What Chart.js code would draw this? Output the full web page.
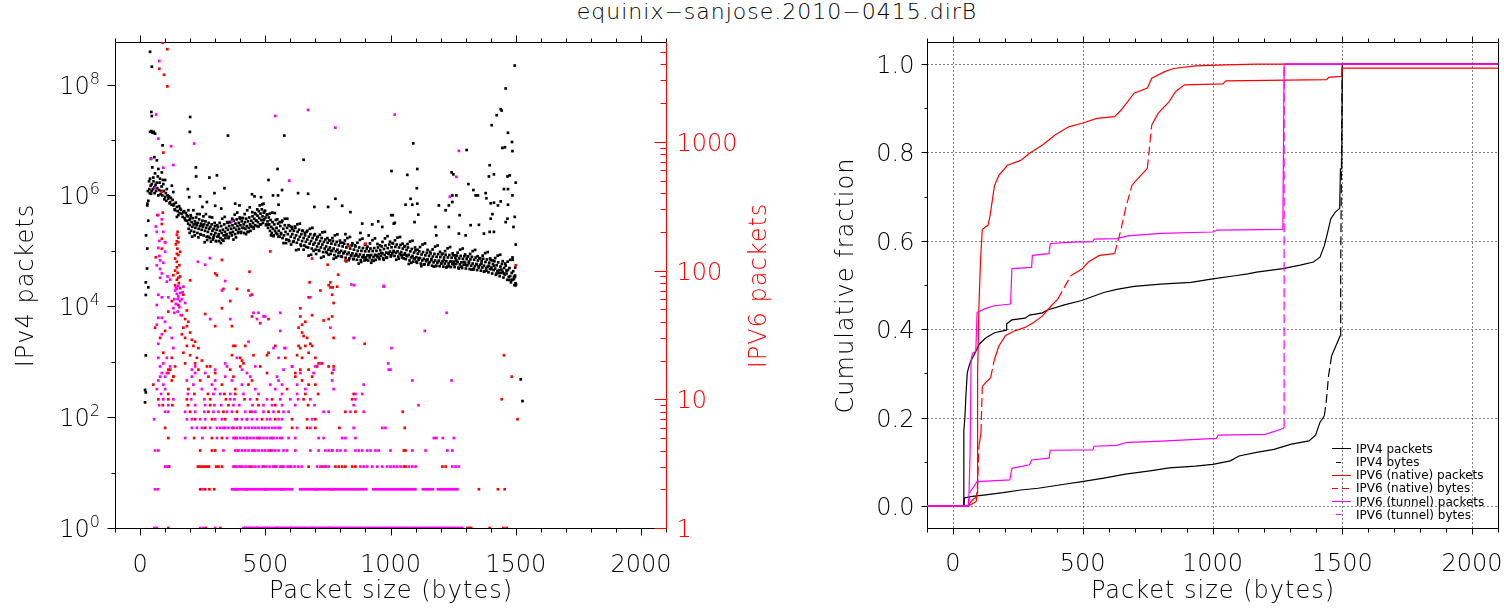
<!DOCTYPE html>
<html><head><meta charset="utf-8">
<script src="https://cdn.jsdelivr.net/npm/chart.js@4.4.1/dist/chart.umd.min.js"></script>
<style>
html,body{margin:0;padding:0;background:#fff;width:1504px;height:610px;overflow:hidden;}
#title{position:absolute;left:777px;top:0;transform:translateX(-50%);white-space:nowrap;font:200 22px 'DejaVu Sans';letter-spacing:1px;line-height:24px;color:#000;}
#c1{position:absolute;left:0;top:0;}
#c2{position:absolute;left:790px;top:0;}
</style></head><body>
<div id="title">equinix−sanjose.2010−0415.dirB</div>
<canvas id="c1" width="790" height="610"></canvas>
<canvas id="c2" width="714" height="610"></canvas>
<script>
// ---------------- tick labels ----------------
const sizeTicks = [0, 500, 1000, 1500, 2000];
const ipv4TickExp = [0, 2, 4, 6, 8];
const ipv6Ticks = [1, 10, 100, 1000];
const fracTicks = [0, 0.2, 0.4, 0.6, 0.8, 1.0];
const fracLabels = ['0.0', '0.2', '0.4', '0.6', '0.8', '1.0'];

// ---------------- left panel: IPv4 packets per size [size, packets] ----------------
const ipv4Points = [
[20,1.85e2],[20,3.1e2],[23,2.8e2],[23,1.3e3],[23,1.6e4],[33,2.2e4],[23,2.7e4],[28,4.8e4],[29,1.1e5],[24,1.9e5],[33,3.5e5],[29,6.6e5],[29,7.1e5],[31,1.2e6],[33,8.0e5],
[40,3.9e8],[47,2.1e8],[45,3.2e7],[47,2.7e7],[40,1.4e7],[45,1.45e7],[50,1.35e7],[55,1.4e7],[60,1.3e7],[90,8.0e6],
[44,4.6e6],[57,4.9e6],[67,4.3e6],[49,3.2e6],[73,3.0e6],[60,2.5e6],[87,2.6e6],[40,2.0e6],[53,2.1e6],[80,2.0e6],[100,1.9e6],[47,1.6e6],[67,1.7e6],[93,1.6e6],[37,1.3e6],[57,1.4e6],[84,1.2e6],[107,1.3e6],[127,1.5e6],[133,1.15e6],[44,1.07e6],[73,1.0e6],[100,9.4e5],[113,8.8e5],[120,7.6e5],[133,6.6e5],[147,6.2e5],[140,5.4e5],[160,5.8e5],[167,4.7e5],[173,5.0e5],[153,4.4e5],[187,4.4e5],[180,3.6e5],[200,3.8e5],[147,4.1e5],
[36,1.8e6],[39,1.1e6],[42,1.5e6],[46,1.2e6],[51,1.3e6],[54,1.8e6],[58,1.1e6],[62,1.55e6],[64,1.2e6],[69,1.35e6],[71,2.2e6],[76,1.25e6],[78,1.7e6],[82,1.05e6],[86,1.45e6],[89,1.0e6],[91,1.9e6],[95,1.2e6],[97,8.5e5],[103,1.1e6],[105,8.0e5],[110,1.0e6],[116,9.6e5],[118,7.2e5],[123,9.0e5],[126,6.8e5],[130,8.3e5],[136,7.0e5],[138,5.6e5],[143,7.4e5],[150,5.2e5],[156,6.4e5],[158,4.8e5],[163,5.5e5],[170,4.1e5],[176,5.2e5],[178,3.9e5],[183,4.8e5],[186,3.5e5],
[190,4.2e5],[192,3.1e5],[194,2.5e5],[197,3.6e5],[199,2.9e5],[202,4.4e5],[204,2.3e5],[206,3.3e5],[209,2.7e5],[211,3.9e5],[214,3.0e5],[216,2.2e5],[219,3.4e5],[221,2.6e5],[224,4.0e5],[226,2.9e5],[229,2.1e5],[231,3.2e5],[234,2.5e5],[236,3.7e5],[239,2.8e5],[241,2.0e5],[244,3.1e5],[246,2.4e5],[249,3.5e5],[251,2.7e5],[254,1.9e5],[256,3.0e5],[259,2.3e5],[261,3.4e5],[264,2.6e5],[266,1.8e5],[269,2.9e5],[271,2.2e5],[274,3.2e5],[276,2.5e5],[279,1.7e5],[281,2.7e5],[284,2.0e5],[286,3.0e5],[289,2.3e5],[291,1.6e5],[294,2.5e5],[296,1.9e5],[299,2.8e5],
[301,2.1e5],[304,1.5e5],[306,2.4e5],[309,1.8e5],[311,2.7e5],[314,2.0e5],[316,1.5e5],[319,2.3e5],[321,1.7e5],[324,2.8e5],[326,2.1e5],[329,1.6e5],[331,2.4e5],[334,1.9e5],[336,3.0e5],[339,2.2e5],[341,1.7e5],[344,2.6e5],[346,2.0e5],[349,3.2e5],[351,2.4e5],[354,1.8e5],[356,2.8e5],[359,2.1e5],[361,3.3e5],[364,2.5e5],[366,1.9e5],[369,2.9e5],[371,2.2e5],[374,3.5e5],[376,2.6e5],[379,2.0e5],[381,3.1e5],[384,2.4e5],[386,3.7e5],[389,2.8e5],[391,2.1e5],[394,3.2e5],[396,2.5e5],[399,3.8e5],[401,2.9e5],[404,2.2e5],[406,3.4e5],[409,2.6e5],[411,3.9e5],[414,3.0e5],[416,2.1e5],[419,3.3e5],[421,2.5e5],[424,3.8e5],[426,2.8e5],[429,2.2e5],[431,3.4e5],[434,2.6e5],[436,4.0e5],[439,3.0e5],
[441,2.3e5],[444,3.5e5],[446,2.7e5],[449,4.2e5],[451,3.2e5],[454,2.5e5],[456,3.8e5],[459,2.9e5],[461,4.6e5],[464,3.5e5],[466,2.8e5],[469,4.3e5],[471,3.3e5],[474,5.2e5],[476,3.9e5],[479,3.0e5],[481,4.7e5],[484,3.6e5],[486,5.6e5],[489,4.2e5],[491,3.2e5],[494,4.9e5],[496,3.7e5],[499,5.3e5],[501,4.0e5],[504,3.0e5],[506,4.5e5],[509,3.4e5],[511,2.6e5],[514,4.0e5],[516,3.0e5],[519,2.3e5],[521,3.6e5],[524,2.7e5],[526,2.1e5],[529,3.3e5],[531,2.5e5],[534,1.9e5],[536,3.0e5],[539,2.3e5],
[542,3.6e5],[545,2.6e5],[548,2.0e5],[551,3.1e5],[554,2.3e5],[557,1.8e5],[560,2.8e5],[563,2.1e5],[566,3.3e5],[569,1.7e5],[572,2.5e5],[575,1.9e5],[578,2.9e5],[581,2.2e5],[584,1.6e5],[587,2.6e5],[590,2.0e5],[593,2.9e5],[596,1.5e5],[599,2.3e5],[602,1.8e5],[605,2.7e5],[608,2.0e5],[611,1.45e5],[614,2.3e5],[617,1.7e5],[620,2.6e5],[623,1.9e5],[626,1.4e5],[629,2.2e5],[632,1.6e5],[635,2.4e5],[638,1.8e5],[641,1.3e5],[644,2.0e5],[647,1.5e5],[650,2.3e5],[653,1.7e5],[656,1.25e5],[659,1.9e5],[662,1.45e5],[665,2.2e5],[668,1.6e5],[671,1.15e5],[674,1.8e5],[677,1.35e5],[680,2.0e5],[683,1.5e5],[686,1.1e5],[689,1.7e5],[692,1.3e5],[695,1.9e5],[698,1.4e5],
[701,1.05e5],[704,1.6e5],[707,1.2e5],[710,1.8e5],[713,1.35e5],[716,1.0e5],[719,1.5e5],[722,1.15e5],[725,1.7e5],[728,1.3e5],[731,9.5e4],[734,1.45e5],[737,1.1e5],[740,1.6e5],[743,1.2e5],[746,9.2e4],[749,1.4e5],[752,1.05e5],[755,1.55e5],[758,1.15e5],[761,8.8e4],[764,1.35e5],[767,1.0e5],[770,1.5e5],[773,1.1e5],[776,8.4e4],[779,1.3e5],[782,9.8e4],[785,1.45e5],[788,1.05e5],[791,8.1e4],[794,1.25e5],[797,9.4e4],[800,1.4e5],[803,1.0e5],[806,7.8e4],[809,1.2e5],[812,9.0e4],[815,1.35e5],[818,9.7e4],[821,7.5e4],[824,1.15e5],[827,8.7e4],[830,1.3e5],[833,9.3e4],[836,7.3e4],[839,1.1e5],[842,8.4e4],[845,1.25e5],[848,9.0e4],[851,7.1e4],[854,1.05e5],[857,8.1e4],[860,1.2e5],[863,8.8e4],[866,6.9e4],[869,1.0e5],[872,7.9e4],[875,1.15e5],[878,8.6e4],[881,6.8e4],[884,1.0e5],[887,7.7e4],[890,1.12e5],[893,8.4e4],[896,6.7e4],[899,9.8e4],
[902,7.6e4],[905,1.1e5],[908,8.3e4],[911,6.7e4],[914,9.8e4],[917,7.6e4],[920,1.1e5],[923,8.4e4],[926,6.8e4],[929,9.9e4],[932,7.7e4],[935,1.12e5],[938,8.5e4],[941,6.9e4],[944,1.0e5],[947,7.9e4],[950,1.15e5],[953,8.7e4],[956,7.1e4],[959,1.03e5],[962,8.1e4],[965,1.2e5],[968,9.0e4],[971,7.3e4],[974,1.08e5],[977,8.4e4],[980,1.25e5],[983,9.3e4],[986,7.6e4],[989,1.12e5],[992,8.8e4],[995,1.3e5],[998,9.7e4],[1001,7.9e4],[1004,1.16e5],[1007,9.0e4],[1010,1.35e5],[1013,1.0e5],[1016,8.1e4],[1019,1.18e5],[1022,9.2e4],[1025,1.3e5],[1028,9.8e4],[1031,7.9e4],[1034,1.15e5],[1037,8.9e4],[1040,1.28e5],[1043,9.5e4],[1046,7.6e4],[1049,1.1e5],[1052,8.5e4],[1055,1.2e5],[1058,9.0e4],[1061,7.1e4],[1064,1.04e5],[1067,8.0e4],[1070,1.15e5],[1073,8.5e4],[1076,6.7e4],[1079,9.8e4],[1082,7.6e4],[1085,1.08e5],[1088,8.1e4],[1091,6.4e4],[1094,9.3e4],[1097,7.2e4],[1100,1.02e5],
[1103,7.7e4],[1106,6.1e4],[1109,8.9e4],[1112,6.9e4],[1115,9.8e4],[1118,7.4e4],[1121,5.9e4],[1124,8.6e4],[1127,6.7e4],[1130,9.5e4],[1133,7.2e4],[1136,5.7e4],[1139,8.3e4],[1142,6.5e4],[1145,9.2e4],[1148,7.0e4],[1151,5.6e4],[1154,8.1e4],[1157,6.3e4],[1160,9.0e4],[1163,6.8e4],[1166,5.4e4],[1169,7.9e4],[1172,6.2e4],[1175,8.8e4],[1178,6.7e4],[1181,5.3e4],[1184,7.8e4],[1187,6.1e4],[1190,8.7e4],[1193,6.6e4],[1196,5.3e4],[1199,7.7e4],[1202,6.0e4],[1205,8.6e4],[1208,6.5e4],[1211,5.2e4],[1214,7.6e4],[1217,5.9e4],[1220,8.5e4],[1223,6.5e4],[1226,5.2e4],[1229,7.6e4],[1232,5.9e4],[1235,8.4e4],[1238,6.4e4],[1241,5.1e4],[1244,7.5e4],[1247,5.8e4],[1250,8.3e4],[1253,6.4e4],[1256,5.1e4],[1259,7.4e4],[1262,5.8e4],[1265,8.2e4],[1268,6.3e4],[1271,5.0e4],[1274,7.3e4],[1277,5.7e4],[1280,8.1e4],[1283,6.2e4],[1286,4.9e4],[1289,7.2e4],[1292,5.6e4],[1295,8.0e4],[1298,6.1e4],
[1301,4.8e4],[1304,7.1e4],[1307,5.5e4],[1310,7.9e4],[1313,6.0e4],[1316,4.7e4],[1319,7.0e4],[1322,5.4e4],[1325,7.8e4],[1328,5.9e4],[1331,4.6e4],[1334,6.9e4],[1337,5.3e4],[1340,7.6e4],[1343,5.8e4],[1346,4.5e4],[1349,6.7e4],[1352,5.2e4],[1355,7.4e4],[1358,5.6e4],[1361,4.4e4],[1364,6.5e4],[1367,5.0e4],[1370,7.2e4],[1373,5.4e4],[1376,4.3e4],[1379,6.3e4],[1382,4.9e4],[1385,7.0e4],[1388,5.2e4],[1391,4.1e4],[1394,6.1e4],[1397,4.7e4],[1400,6.8e4],[1403,5.0e4],[1406,3.9e4],[1409,5.8e4],[1412,4.5e4],[1415,6.5e4],[1418,4.8e4],[1421,3.7e4],[1424,5.5e4],[1427,4.3e4],[1430,6.2e4],[1433,4.5e4],[1436,3.5e4],[1439,5.2e4],[1442,4.0e4],[1445,5.8e4],[1448,4.2e4],[1451,3.3e4],[1454,4.9e4],[1457,3.7e4],[1460,5.4e4],[1463,3.9e4],[1466,3.0e4],[1469,4.5e4],[1472,3.4e4],[1475,4.9e4],[1478,3.5e4],[1481,2.7e4],[1484,4.0e4],[1487,3.0e4],[1490,4.3e4],[1493,3.1e4],[1495,2.4e4],[1497,3.6e4],[1499,2.6e4],[1500,2.4e4],
[193,5.4e5],[198,2.1e5],[203,4.2e5],[208,1.8e5],[213,5.4e5],[218,1.9e5],[223,3.1e5],[228,4.6e5],[233,1.75e5],[238,4.6e5],[243,1.96e5],[248,2.9e5],[253,4.2e5],[258,1.43e5],[263,4.6e5],[268,1.57e5],[273,1.8e5],[278,4.1e5],[283,1.47e5],[288,4.0e5],[293,1.74e5],[298,3.2e5],
[303,1.5e5],[308,2.9e5],[313,1.83e5],[318,3.2e5],[323,1.38e5],[328,3.8e5],[333,1.52e5],[338,4.1e5],[343,1.9e5],[348,3.3e5],[353,1.7e5],[358,3.3e5],[363,2.1e5],[368,3.8e5],[373,1.6e5],[378,4.5e5],[383,1.75e5],[388,4.9e5],[393,2.2e5],[398,4.0e5],[403,2.1e5],[408,3.9e5],[413,2.6e5],[418,4.6e5],[423,2.0e5],[428,5.4e5],[433,2.2e5],[438,6.1e5],
[443,2.8e5],[448,5.0e5],[453,2.7e5],[458,4.8e5],[463,3.5e5],[468,5.6e5],[473,2.75e5],[478,6.6e5],[483,3.0e5],[488,6.9e5],[493,3.6e5],[498,5.2e5],[503,2.9e5],[508,4.5e5],[513,2.95e5],[518,4.7e5],[523,1.9e5],[528,4.9e5],[533,1.84e5],[538,4.8e5],
[543,2.1e5],[548,3.7e5],[553,1.8e5],[558,3.3e5],[563,2.0e5],[568,3.5e5],[573,1.38e5],[578,3.8e5],[583,1.38e5],[588,3.8e5],[593,1.57e5],[598,2.8e5],[603,1.3e5],[608,2.5e5],[613,1.48e5],[618,2.75e5],[623,1.03e5],[628,3.0e5],[633,1.06e5],[638,3.1e5],[643,1.23e5],[648,2.3e5],[653,1.05e5],[658,2.1e5],[663,1.18e5],[668,2.3e5],[673,8.2e4],[678,2.5e5],[683,8.5e4],[688,2.6e5],[693,1.0e5],[698,2.0e5],
[703,8.8e4],[708,1.76e5],[713,1.03e5],[718,1.95e5],[723,7.5e4],[728,2.16e5],[733,7.9e4],[738,2.2e5],[743,9.6e4],[748,1.7e5],[753,8.5e4],[758,1.55e5],[763,1.0e5],[768,1.7e5],[773,7.2e4],[778,1.9e5],[783,7.6e4],[788,1.98e5],[793,9.2e4],[798,1.53e5],[803,8.0e4],[808,1.4e5],[813,9.2e4],[818,1.54e5],[823,6.5e4],[828,1.7e5],[833,6.8e4],[838,1.78e5],[843,8.1e4],[848,1.37e5],[853,7.1e4],[858,1.26e5],[863,8.3e4],[868,1.4e5],[873,5.9e4],[878,1.58e5],[883,6.3e4],[888,1.66e5],[893,7.6e4],[898,1.28e5],
[903,6.9e4],[908,1.19e5],[913,8.3e4],[918,1.36e5],[923,6.1e4],[928,1.56e5],[933,6.6e4],[938,1.68e5],[943,8.3e4],[948,1.33e5],[953,7.6e4],[958,1.26e5],[963,9.2e4],[968,1.45e5],[973,6.9e4],[978,1.68e5],[983,7.5e4],[988,1.84e5],[993,9.2e4],[998,1.46e5],[1003,8.3e4],[1008,1.38e5],[1013,9.7e4],[1018,1.55e5],[1023,6.9e4],[1028,1.73e5],[1033,7.2e4],[1038,1.78e5],[1043,8.4e4],[1048,1.35e5],[1053,7.3e4],[1058,1.22e5],[1063,8.3e4],[1068,1.33e5],[1073,5.8e4],[1078,1.47e5],[1083,6.1e4],[1088,1.52e5],[1093,7.3e4],[1098,1.15e5],
[1103,6.4e4],[1108,1.05e5],[1113,7.4e4],[1118,1.17e5],[1123,5.3e4],[1128,1.3e5],[1133,5.7e4],[1138,1.36e5],[1143,6.8e4],[1148,1.04e5],[1153,6.1e4],[1158,9.6e4],[1163,7.1e4],[1168,1.06e5],[1173,5.2e4],[1178,1.19e5],[1183,5.4e4],[1188,1.25e5],[1193,6.6e4],[1198,9.6e4],[1203,5.9e4],[1208,8.9e4],[1213,6.8e4],[1218,9.9e4],[1223,5.0e4],[1228,1.11e5],[1233,5.3e4],[1238,1.17e5],[1243,6.4e4],[1248,9.0e4],[1253,5.7e4],[1258,8.3e4],[1263,6.7e4],[1268,9.3e4],[1273,4.8e4],[1278,1.05e5],[1283,5.2e4],[1288,1.1e5],[1293,6.3e4],[1298,8.6e4],
[1303,5.5e4],[1308,7.9e4],[1313,6.4e4],[1318,8.8e4],[1323,4.6e4],[1328,9.9e4],[1333,4.8e4],[1338,1.04e5],[1343,5.7e4],[1348,8.0e4],[1353,5.0e4],[1358,7.3e4],[1363,5.9e4],[1368,8.2e4],[1373,4.2e4],[1378,9.1e4],[1383,4.4e4],[1388,9.5e4],[1393,5.4e4],[1398,7.3e4],[1403,4.7e4],[1408,6.7e4],[1413,5.4e4],[1418,7.4e4],[1423,3.9e4],[1428,8.2e4],[1433,4.0e4],[1438,8.5e4],[1443,4.6e4],[1448,6.5e4],[1453,3.9e4],[1458,5.9e4],[1463,4.4e4],[1468,6.4e4],[1473,3.0e4],[1478,6.9e4],[1483,3.0e4],[1488,6.9e4],[1493,3.4e4],[1498,5.0e4],
[200,2.6e7],[199,1.4e7],[351,1.2e7],[576,1.2e7],[653,4.4e6],[549,3.0e6],[223,3.2e6],[224,2.2e6],[277,2.1e6],[307,2.3e6],[297,1.1e6],[337,1.35e6],[191,1.3e6],[196,9.3e5],[240,9.6e5],[267,7.6e5],[249,6.2e5],[300,6.5e5],[324,5.8e5],[380,7.1e5],[397,6.6e5],[447,1.05e6],[457,9.6e5],[483,9.3e5],[493,7.1e5],[513,1.9e6],[531,1.0e6],[551,1.0e6],[567,1.25e6],[553,6.8e5],[631,1.1e6],[671,1.07e6],[696,6.2e5],[751,6.2e5],[780,8.7e5],[807,6.5e5],[840,5.0e5],[887,3.1e5],[927,3.0e5],[951,3.4e5],[967,2.7e5],[1004,2.75e6],[1009,4.4e5],[1017,3.2e5],[820,2.0e5],[880,2.1e5],[913,1.9e5],
[1496,2.2e8],[1460,8.5e7],[1440,3.6e7],[1444,3.4e7],[1424,2.8e7],[1404,1.85e7],[1469,1.35e7],[1485,9.2e6],[1447,7.2e6],[1457,7.4e6],[1487,6.3e6],[1304,6.6e6],[1091,8.7e6],[1396,3.5e6],[1413,2.4e6],[1393,2.2e6],[1467,2.2e6],[1476,2.3e6],[1107,3.0e6],[1067,2.35e6],[1244,2.6e6],[1251,2.4e6],[1105,1.35e6],[1311,1.6e6],[1453,1.3e6],[1469,1.3e6],[1500,1.7e6],[1487,1.0e6],[1247,1.0e6],[1263,1.0e6],[1331,1.25e6],[1340,1.0e6],[1349,1.0e6],[1080,8.7e5],[1060,6.8e5],[1087,6.8e5],[1107,7.1e5],[1193,6.6e5],[1220,5.4e5],[1233,6.6e5],[1247,7.6e5],[1380,1.1e6],[1383,8.9e5],[1400,7.2e5],[1440,7.8e5],[1469,6.8e5],[1429,6.6e5],[1413,7.4e5],[1003,4.4e5],[1013,3.1e5],[1096,3.3e5],[1111,4.5e5],[1276,4.4e5],[1400,3.8e5],[1407,4.6e5],[1460,3.3e5],[1467,3.8e5],[1496,4.1e5],[1491,2.7e5],[1320,2.9e5],[1353,2.95e5],[1373,2.05e5],[1396,2.2e5],[1413,2.2e5],[1180,2.7e5],[1233,2.7e5],[1273,2.05e5],[1300,1.9e5],[1183,1.9e5],[1500,1.3e5],[1487,7.6e4],[1497,3.4e4],[1501,2.5e4],[1520,4.8e2],[1527,1.95e2]
];

// IPv6 native: rows of integer counts [count, [sizes]] and scattered [size, count]
const nativeRows = [
[1,[113,263,320,420,466,505,548,604,688,760,1307,1315,1322,1396,1451,1464]],
[2,[240,260,277,296,383,427,501,563,705,767,1353,1429,1456]],
[3,[116,231,240,249,258,267,275,304,313,327,380,400,440,493,540,567,600,673,727,740,780,793,807,820,847,860,1053,1060,1207,1220]],
[4,[240,287,300,390,453,520,767,1053,1060]],
[5,[113,216,287,327,380,427,473,527]],
[6,[100,260,373,400,607,667,700,796,1057]],
[7,[220,287,340,387,427,487,540,607,667,700,1507]],
[8,[200,273,333,387,440,513,553,820,860,1049]],
[9,[91,129,191,280,353,473,540,671]],
[10,[73,113,187,280,343,417,467,527,653,847,1444]],
[11,[113,217,271,337,380,660,711,853]]
];
const nativeScatter = [
[91,5900],[109,5250],[77,3700],[96,3320],[109,2700],[93,825],[87,408],[91,282],[69,270],[87,230],[87,177],[100,166],[147,169],[153,166],[149,148],[153,132],[140,124],[147,117],[87,148],[63,127],[327,121],[520,141],[437,98],[300,95],[307,92],[677,81],[760,81],[769,74],[687,124],[749,111],[791,93],[833,155],[900,162],[820,120],[200,84],[140,100],[133,92],[147,106],[153,88],[1500,110],
[150,200],[147,190],[153,180],[143,160],[160,140],[147,135],[157,110],[150,96],[160,90],[147,85],[155,80],
[140,77],[160,73],[173,65],[127,58],[153,54],[187,49],[113,48],[167,45],[180,42],[193,40],[187,37],[173,36],[200,33],[167,32],[180,30],[207,29],[220,28],[187,26],[213,26],[233,25],[173,23],[200,22],[227,21],[247,20],[180,19],[220,19],[267,18],[60,36],[100,34],[80,30],[93,23],[127,21],[113,17],[133,15],
[260,46],[300,37],[333,72],[387,72],[360,58],[327,51],[367,37],[380,26],[373,26],[367,22],[400,21],[407,20],[413,19],[433,70],[447,65],[447,44],[513,42],[480,39],[420,26],[453,22],[480,18],[507,22],[513,23],[540,26],[580,21],
[640,51],[640,44],[647,38],[633,36],[660,40],[673,62],[687,45],[647,33],[653,31],[667,30],[633,26],[640,25],[660,26],[680,27],[687,26],[627,22],[647,21],[673,23],[700,21],[713,19],[720,70],[733,41],[753,42],[767,44],[773,30],[760,74],[767,65],[773,56],[753,77],[787,75],[707,18],[727,19],[753,18],[773,18],[897,27],
[193,12],[380,12],[587,12],[53,13],[327,13],[433,13],[673,13],[700,13],[127,14],[240,14],[447,14],[647,14],[133,15],[273,15],[373,15],[620,15],[687,15],[113,16],[300,16],[507,16],[620,16],[767,16],[120,17],[233,17],[360,17],[640,17],[673,17],[140,18],[280,18],[400,18],[607,18],[1453,22],[1484,15]
];

// IPv6 tunnel
const tunnelRows = [
[1,[57,67,240,253,300,413,421,428,436,444,451,459,467,474,482,490,497,505,513,520,528,536,543,551,559,566,574,582,589,597,605,612,620,628,635,643,651,658,666,674,681,689,697,704,712,720,727,735,743,750,758,766,773,781,789,796,804,812,819,827,835,842,850,858,865,873,881,888,896,904,911,919,927,934,942,950,957,965,973,980,988,996,1003,1011,1019,1026,1034,1042,1049,1057,1065,1072,1080,1088,1095,1103,1111,1118,1126,1134,1141,1149,1157,1164,1172,1180,1187,1195,1203,1210,1218,1226,1233,1241,1249,1256,1264,1272,1279,1287]],
[2,[60,71,249,367,375,383,391,399,407,415,423,431,439,447,455,463,471,479,487,495,503,511,519,527,535,543,551,559,567,575,583,591,599,607,639,647,655,663,671,679,687,695,703,711,719,727,735,743,751,759,767,775,783,791,799,807,815,823,831,839,847,855,863,871,879,887,895,903,931,939,947,955,963,971,979,987,995,1003,1011,1019,1027,1035,1043,1051,1059,1067,1075,1083,1091,1099,1129,1137,1145,1153,1161,1169,1189,1197,1205,1213,1221,1229,1237,1245,1253,1261,1267]],
[3,[100,109,373,385,397,409,421,433,449,461,475,489,503,517,531,545,559,573,589,603,617,631,645,707,720,740,753,880,893,907,927,947,967,987,1000,1013,1027,1040,1073,1087,1100,1247,1260,1273]],
[4,[60,73,333,380,393,407,420,433,447,460,473,487,500,513,527,540,553,573,587,620,680,713,740,753,767,787,800,820,860,873,887,907,920,940,953,1000,1087,1140,1227,1247]],
[5,[180,249,307,347,373,387,400,413,427,440,453,467,480,493,507,520,533,547,560,567,593,620,713,733,807,820,860,1173,1183,1209,1253]],
[6,[207,227,247,280,307,320,333,340,353,367,387,400,420,433,447,460,473,487,500,513,527,540,553,560,627,680,853,967,980]],
[7,[56,187,207,240,260,300,327,380,407,427,447,467,507,520,553,567,687]],
[8,[100,113,180,220,257,293,313,347,367,420,447,460,493,533,573,593,733,753,840,893]],
[9,[76,113,220,260,297,324,373,396,449,493,527,567,620,697,853,1112]],
[10,[93,133,204,257,360,377,440,507,560,600,631,680,860]],
[11,[84,191,293,320,360,413,473,567,627,860,887]]
];
const tunnelScatter = [
[77,4250],[64,1630],[73,1060],[216,970],[124,925],[43,735],[93,630],[133,660],[60,435],[73,270],[63,220],[77,170],[100,166],[80,103],[367,241],[540,1590],[671,1770],[780,1290],[1017,1630],[596,500],[231,117],[260,111],[279,125],[340,83],[844,78],[973,76],[107,82],[80,88],[87,95],[1273,850],[1263,535],[1237,375],
[67,200],[73,150],[77,130],[67,110],[80,120],[87,250],[93,200],[100,140],[93,115],[110,90],[120,85],
[73,65],[87,62],[113,62],[67,54],[147,72],[160,67],[167,60],[133,51],[180,56],[153,76],[137,60],[173,75],[73,43],[100,40],[120,36],[87,32],[127,30],[73,27],[133,25],[107,21],[73,21],[93,19],[120,18],[107,16],[80,15],[87,43],[67,38],
[140,70],[147,66],[153,63],[160,58],[143,55],[157,52],[150,48],[163,45],[137,47],[170,68],[143,74],[150,60],
[280,42],[327,70],[360,42],[340,19],[387,21],[440,64],[453,47],[467,42],[500,44],[533,25],[560,47],[580,25],[553,21],[433,28],[473,47],[493,44],[560,34],[577,25],[607,18],[640,16],[680,62],[760,36],[720,19],[855,77],[973,75],[1004,25],[991,19],[993,17],[893,13],[853,30],
[1224,47],[1137,34],[1000,17],[1087,14],[1244,14],
[67,12],[100,12],[247,12],[300,12],[460,12],[540,12],[660,12],[773,12],[93,13],[213,13],[287,13],[407,13],[520,13],[567,13],[627,13],[73,14],[187,14],[300,14],[367,14],[553,14],[767,14],[100,15],[207,15],[340,15],[440,15],[547,15],[87,16],[220,16],[260,16],[427,16],[693,16],[207,17],[300,17],[407,17],[573,17],[773,17],[80,18],[220,18],[347,18],[460,18],[700,18]
];

// ---------------- right panel: cumulative fractions [size, fraction] ----------------
const ipv4PktCdf = [[-100,0],[42,0],[42,0.17],[46,0.2],[50,0.25],[55,0.3],[59,0.31],[67,0.326],[84,0.345],[101,0.366],[126,0.38],[160,0.392],[193,0.396],[205,0.398],[207,0.412],[227,0.421],[278,0.425],[295,0.432],[345,0.437],[362,0.443],[429,0.455],[496,0.465],[581,0.483],[631,0.49],[698,0.497],[800,0.502],[917,0.506],[1001,0.514],[1086,0.521],[1136,0.525],[1170,0.529],[1271,0.537],[1338,0.545],[1389,0.552],[1414,0.563],[1431,0.589],[1439,0.608],[1456,0.65],[1473,0.665],[1490,0.673],[1493,0.763],[1498,0.763],[1500,1.0],[2100,1.0]];
const ipv4ByteCdf = [[-100,0],[42,0],[44,0.018],[67,0.021],[126,0.025],[193,0.03],[261,0.036],[328,0.04],[429,0.049],[497,0.055],[581,0.063],[665,0.072],[766,0.08],[833,0.086],[934,0.09],[1001,0.094],[1069,0.102],[1102,0.113],[1170,0.121],[1237,0.128],[1304,0.14],[1372,0.147],[1397,0.16],[1414,0.189],[1431,0.204],[1439,0.24],[1447,0.294],[1459,0.34],[1481,0.37],[1492,0.385],[1494,0.55],[1500,1.0],[2100,1.0]];
const nativePktCdf = [[-100,0],[59,0],[70,0.01],[88,0.02],[93,0.03],[95,0.3],[100,0.45],[106,0.552],[113,0.626],[135,0.635],[143,0.657],[160,0.725],[177,0.748],[210,0.771],[261,0.782],[295,0.798],[345,0.817],[395,0.84],[446,0.858],[497,0.866],[555,0.877],[623,0.881],[648,0.896],[698,0.934],[749,0.946],[766,0.968],[816,0.983],[850,0.99],[934,0.996],[1052,0.998],[1170,1.0],[2100,1.0]];
const nativeByteCdf = [[-100,0],[60,0],[75,0.005],[90,0.01],[95,0.05],[100,0.135],[108,0.165],[113,0.27],[126,0.279],[145,0.29],[160,0.332],[177,0.362],[202,0.385],[236,0.396],[278,0.404],[311,0.415],[345,0.43],[379,0.453],[404,0.468],[454,0.521],[497,0.536],[522,0.552],[564,0.567],[623,0.571],[648,0.627],[665,0.673],[690,0.726],[724,0.748],[749,0.764],[766,0.862],[791,0.889],[833,0.915],[858,0.938],[892,0.953],[1040,0.955],[1052,0.962],[1440,0.965],[1447,0.97],[1496,0.972],[1498,0.975],[1500,0.991],[2100,0.991]];
const tunnelPktCdf = [[-100,0],[59,0],[62,0.03],[66,0.12],[70,0.33],[75,0.345],[88,0.35],[93,0.438],[126,0.447],[160,0.453],[222,0.457],[227,0.537],[303,0.54],[306,0.567],[370,0.571],[375,0.594],[463,0.597],[539,0.598],[544,0.604],[631,0.605],[673,0.611],[800,0.617],[1001,0.62],[1018,0.624],[1271,0.626],[1276,1.0],[2100,1.0]];
const tunnelByteCdf = [[-100,0],[59,0],[67,0.033],[76,0.04],[93,0.055],[219,0.059],[227,0.085],[295,0.093],[303,0.104],[370,0.108],[375,0.126],[539,0.127],[544,0.135],[631,0.137],[673,0.144],[782,0.146],[1015,0.153],[1022,0.16],[1204,0.162],[1271,0.175],[1276,0.178],[1276,1.0],[2100,1.0]];

// ---------------- helpers ----------------
const RED = '#ff0000', MAG = '#ff00ff', BLK = '#000000', TXT = '#000000';
const FONT = "'DejaVu Sans', sans-serif";
const F = (size) => '200 ' + size + 'px ' + FONT;
const pairs = a => a.map(([x, y]) => ({x, y}));
const rowsToPoints = rows => { const out = []; rows.forEach(([c, sizes]) => sizes.forEach(s => out.push({x: s, y: c}))); return out; };
function seg(ctx, x1, y1, x2, y2) { ctx.beginPath(); ctx.moveTo(x1, y1); ctx.lineTo(x2, y2); ctx.stroke(); }
const px = v => Math.round(v) + 0.5;

Chart.defaults.font.family = FONT;
Chart.defaults.animation = false;

const hiddenAxis = (extra) => Object.assign({
  grid: {display: false}, border: {display: false}, ticks: {display: false}
}, extra);

// ---------------- left chart ----------------
const leftFrame = {
  id: 'leftFrame',
  beforeDatasetsDraw(chart) {
    const {ctx, chartArea: a, scales: {x, y, y2}} = chart;
    const L = px(a.left), R = px(a.right), T = px(a.top), B = px(a.bottom);
    ctx.save();
    ctx.lineWidth = 1; ctx.strokeStyle = BLK;
    seg(ctx, L, T, L, B); seg(ctx, L, B, R, B); seg(ctx, L, T, R, T);
    for (let v = -100; v <= 2100; v += 100) {
      const p = px(x.getPixelForValue(v)); const len = v % 500 === 0 ? 7 : 4;
      seg(ctx, p, B, p, B + len); seg(ctx, p, T, p, T - len);
    }
    for (let e = 0; e <= 8; e++) {
      const p = px(y.getPixelForValue(Math.pow(10, e)));
      seg(ctx, L, p, L - (e % 2 === 0 ? 8 : 4), p);
    }
    ctx.strokeStyle = RED; seg(ctx, R, T, R, B);
    for (let d = 0; d <= 3; d++) for (let m = 1; m <= 9; m++) {
      const v = m * Math.pow(10, d); if (v > y2.max) break;
      const p = px(y2.getPixelForValue(v)); seg(ctx, R, p, R - (m === 1 ? 12 : 6), p);
    }
    // tick labels
    ctx.fillStyle = TXT; ctx.font = F(24); ctx.textBaseline = 'alphabetic';
    ctx.textAlign = 'center';
    sizeTicks.forEach(v => ctx.fillText(String(v), x.getPixelForValue(v), 572));
    ipv4TickExp.forEach(e => {
      const p = y.getPixelForValue(Math.pow(10, e));
      ctx.font = F(16); const ws = ctx.measureText(String(e)).width;
      ctx.font = F(24); const wb = ctx.measureText('10').width;
      ctx.textAlign = 'left';
      ctx.fillText('10', 100 - ws - wb, p + 9);
      ctx.font = F(16); ctx.fillText(String(e), 100 - ws, p - 1);
    });
    ctx.font = F(24); ctx.fillStyle = RED; ctx.textAlign = 'left';
    ipv6Ticks.forEach(v => ctx.fillText(String(v), R + 10, y2.getPixelForValue(v) + 9));
    // axis titles
    ctx.letterSpacing = '1px';
    ctx.fillStyle = TXT; ctx.textAlign = 'center';
    ctx.fillText('Packet size (bytes)', (L + R) / 2, 598);
    const mid = (T + B) / 2;
    ctx.save(); ctx.translate(33, mid); ctx.rotate(-Math.PI / 2); ctx.fillText('IPv4 packets', 0, 0); ctx.restore();
    ctx.fillStyle = RED;
    ctx.save(); ctx.translate(766, mid); ctx.rotate(-Math.PI / 2); ctx.fillText('IPV6 packets', 0, 0); ctx.restore();
    ctx.restore();
  }
};

const ptStyle = {pointStyle: 'rect', pointRadius: 1.9, pointBorderWidth: 0, borderWidth: 0};
new Chart(document.getElementById('c1'), {
  type: 'scatter',
  data: {datasets: [
    Object.assign({label: 'IPv6 tunnel', data: rowsToPoints(tunnelRows).concat(pairs(tunnelScatter)), yAxisID: 'y2', backgroundColor: MAG}, ptStyle),
    Object.assign({label: 'IPv6 native', data: rowsToPoints(nativeRows).concat(pairs(nativeScatter)), yAxisID: 'y2', backgroundColor: RED}, ptStyle),
    Object.assign({label: 'IPv4', data: pairs(ipv4Points), yAxisID: 'y', backgroundColor: BLK}, ptStyle)
  ]},
  options: {
    responsive: false, devicePixelRatio: 1, animation: false,
    layout: {padding: {top: 42, left: 0, right: 0, bottom: 0}, autoPadding: false},
    plugins: {legend: {display: false}, tooltip: {enabled: false}},
    events: [],
    scales: {
      x: hiddenAxis({type: 'linear', position: 'bottom', min: -100, max: 2100, afterFit: s => { s.height = 82; }}),
      y: hiddenAxis({type: 'logarithmic', position: 'left', min: 1, max: 5.86e8, afterFit: s => { s.width = 115; }}),
      y2: hiddenAxis({type: 'logarithmic', position: 'right', min: 1, max: 5970, afterFit: s => { s.width = 124; }})
    }
  },
  plugins: [leftFrame]
});

// ---------------- right chart ----------------
const legendItems = [
  {text: 'IPV4 packets', color: BLK, segs: [[0, 19]]},
  {text: 'IPV4 bytes', color: BLK, segs: [[4, 9]]},
  {text: 'IPV6 (native) packets', color: RED, segs: [[0, 19]]},
  {text: 'IPV6 (native) bytes', color: RED, segs: [[0, 6], [10, 17]]},
  {text: 'IPV6 (tunnel) packets', color: MAG, segs: [[0, 19]]},
  {text: 'IPV6 (tunnel) bytes', color: MAG, segs: [[4, 9]]}
];
const rightFrame = {
  id: 'rightFrame',
  beforeDatasetsDraw(chart) {
    const {ctx, chartArea: a, scales: {x, y}} = chart;
    const L = px(a.left), R = px(a.right), T = px(a.top), B = px(a.bottom);
    ctx.save();
    ctx.lineWidth = 1; ctx.strokeStyle = BLK;
    ctx.setLineDash([1, 3]);
    sizeTicks.forEach(v => { const p = px(x.getPixelForValue(v)); seg(ctx, p, T, p, B); });
    fracTicks.forEach(v => { const p = px(y.getPixelForValue(v)); seg(ctx, L, p, R, p); });
    ctx.setLineDash([]);
    seg(ctx, L, T, L, B); seg(ctx, L, B, R, B); seg(ctx, L, T, R, T); seg(ctx, R, T, R, B);
    for (let v = -100; v <= 2100; v += 100) {
      const p = px(x.getPixelForValue(v)); const len = v % 500 === 0 ? 6 : 4;
      seg(ctx, p, B, p, B + len); seg(ctx, p, T, p, T - len);
    }
    for (let k = 0; k <= 10; k++) {
      const p = px(y.getPixelForValue(k / 10)); seg(ctx, L, p, L - (k % 2 === 0 ? 6 : 3), p);
    }
    ctx.fillStyle = TXT; ctx.font = F(24); ctx.textBaseline = 'alphabetic';
    ctx.textAlign = 'center';
    sizeTicks.forEach(v => ctx.fillText(String(v), x.getPixelForValue(v), 571));
    ctx.textAlign = 'right';
    fracTicks.forEach((v, i) => ctx.fillText(fracLabels[i], L - 13, y.getPixelForValue(v) + 9));
    ctx.letterSpacing = '1px'; ctx.textAlign = 'center';
    ctx.fillText('Packet size (bytes)', (L + R) / 2, 598);
    ctx.save(); ctx.translate(63, (T + B) / 2); ctx.rotate(-Math.PI / 2); ctx.fillText('Cumulative fraction', 0, 0); ctx.restore();
    ctx.restore();
  },
  afterDatasetsDraw(chart) {
    const {ctx} = chart;
    ctx.save();
    ctx.font = '12px ' + FONT; ctx.textAlign = 'left'; ctx.textBaseline = 'alphabetic';
    const x0 = 542, rows = [448, 461.5, 474.5, 487.5, 501, 514];
    legendItems.forEach((it, i) => {
      const yy = Math.round(rows[i]) + 0.5;
      ctx.strokeStyle = it.color; ctx.lineWidth = 1;
      it.segs.forEach(([s, e]) => seg(ctx, x0 + s, yy, x0 + e, yy));
      ctx.fillStyle = TXT;
      ctx.fillText(it.text, 566, rows[i] + 4.5);
    });
    ctx.restore();
  }
};

const dashLong = c => {
  const dy = Math.abs(c.p1.y - c.p0.y), dx = Math.abs(c.p1.x - c.p0.x);
  return (dy > 14 && dy > dx) ? [9, 4] : [];
};
const lineBase = {showLine: true, pointRadius: 0, borderWidth: 1.2, tension: 0, fill: false};
new Chart(document.getElementById('c2'), {
  type: 'scatter',
  data: {datasets: [
    Object.assign({label: 'IPV6 (tunnel) packets', data: pairs(tunnelPktCdf), borderColor: MAG}, lineBase),
    Object.assign({label: 'IPV6 (tunnel) bytes', data: pairs(tunnelByteCdf), borderColor: MAG, segment: {borderDash: dashLong}}, lineBase),
    Object.assign({label: 'IPV6 (native) packets', data: pairs(nativePktCdf), borderColor: RED}, lineBase),
    Object.assign({label: 'IPV6 (native) bytes', data: pairs(nativeByteCdf), borderColor: RED, segment: {borderDash: dashLong}}, lineBase),
    Object.assign({label: 'IPV4 packets', data: pairs(ipv4PktCdf), borderColor: BLK}, lineBase),
    Object.assign({label: 'IPV4 bytes', data: pairs(ipv4ByteCdf), borderColor: BLK, segment: {borderDash: dashLong}}, lineBase)
  ]},
  options: {
    responsive: false, devicePixelRatio: 1, animation: false,
    layout: {padding: {top: 42, left: 0, right: 6, bottom: 0}, autoPadding: false},
    plugins: {legend: {display: false}, tooltip: {enabled: false}},
    events: [],
    scales: {
      x: hiddenAxis({type: 'linear', position: 'bottom', min: -100, max: 2100, afterFit: s => { s.height = 82; }}),
      y: hiddenAxis({type: 'linear', position: 'left', min: -0.05, max: 1.05, afterFit: s => { s.width = 137; }})
    }
  },
  plugins: [rightFrame]
});
</script>
</body></html>
